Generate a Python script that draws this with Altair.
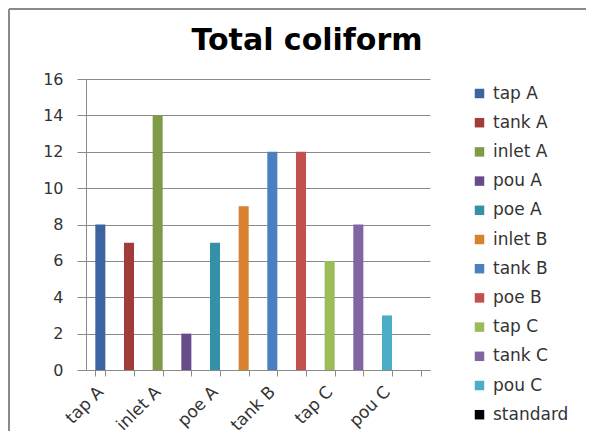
import altair as alt
import pandas as pd

categories = ["tap A", "tank A", "inlet A", "pou A", "poe A", "inlet B",
              "tank B", "poe B", "tap C", "tank C", "pou C", "standard"]
values = [8, 7, 14, 2, 7, 9, 12, 12, 6, 8, 3, None]
colors = ["#3b64a0", "#a03d3b", "#7f9b47", "#684c8a", "#3691a8", "#d8822f",
          "#4b80c0", "#c2504d", "#9cbc5a", "#8165a3", "#4badc6", "#000000"]
shown_labels = ["tap A", "inlet A", "poe A", "tank B", "tap C", "pou C"]
y_ticks = [0, 2, 4, 6, 8, 10, 12, 14, 16]

df = pd.DataFrame({"site": categories, "value": values})

FONT = "DejaVu Sans"
label_list = "[" + ",".join("'" + s + "'" for s in shown_labels) + "]"

bars = alt.Chart(df).mark_bar().encode(
    x=alt.X("site:N", sort=categories,
            scale=alt.Scale(paddingInner=0.65, paddingOuter=0.325),
            axis=alt.Axis(title=None, labelAngle=-45, labelAlign="right",
                          labelBaseline="middle", labelPadding=13,
                          labelFontSize=17, labelFont=FONT, labelColor="#333333",
                          labelExpr="indexof(" + label_list + ", datum.value) >= 0 ? datum.value : ''",
                          tickBand="extent", tickSize=6, tickColor="#8a8a8a",
                          domainColor="#8a8a8a", labelOverlap=False)),
    y=alt.Y("value:Q", scale=alt.Scale(domain=[0, 16], nice=False),
            axis=alt.Axis(title=None, values=y_ticks, tickSize=9, labelPadding=14,
                          labelFontSize=16, labelFont=FONT, labelColor="#333333",
                          tickColor="#8a8a8a", domainColor="#8a8a8a",
                          gridColor="#8a8a8a", gridWidth=1)),
    color=alt.Color("site:N", scale=alt.Scale(domain=categories, range=colors),
                    legend=alt.Legend(title=None, orient="none", legendX=385, legendY=6,
                                      symbolType="square", symbolSize=90,
                                      symbolStrokeWidth=0, labelFontSize=17,
                                      labelFont=FONT, labelColor="#333333",
                                      labelOffset=5, rowPadding=11.2, padding=0)),
)

border_left = alt.Chart(df).mark_rule(color="#8a8a8a", strokeWidth=2).encode(
    x=alt.value(-77), y=alt.value(-70), y2=alt.value(352))
border_top = alt.Chart(df).mark_rule(color="#8a8a8a", strokeWidth=2).encode(
    x=alt.value(-77), x2=alt.value(500), y=alt.value(-70))

chart = alt.layer(bars, border_left, border_top).properties(
    width=344, height=291, padding=0,
    title=alt.TitleParams("Total coliform", font=FONT, fontSize=30, fontWeight="bold",
                          color="#000000", frame="group", anchor="middle", dx=49,
                          baseline="alphabetic", offset=-72),
).configure_view(stroke=None)

chart.save("out.html", embed_options={"renderer": "svg", "actions": False})
